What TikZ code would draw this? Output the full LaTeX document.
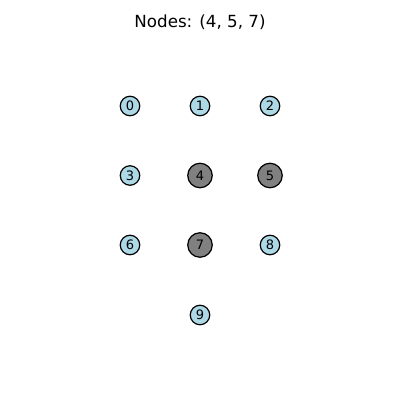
\documentclass[tikz,border=0pt]{standalone}
\usepackage{fontspec}
\setmainfont{DejaVu Sans}
\definecolor{lblue}{RGB}{173,216,230}
\definecolor{ngray}{RGB}{128,128,128}
\begin{document}
\begin{tikzpicture}[x=1pt,y=1pt,
  plain/.style={circle,draw=black,line width=1.2pt,fill=lblue,minimum size=19.5pt,inner sep=0pt,font=\fontsize{13}{13}\selectfont},
  chosen/.style={circle,draw=black,line width=1.2pt,fill=ngray,minimum size=24.5pt,inner sep=0pt,font=\fontsize{13}{13}\selectfont}]
\useasboundingbox (0,0) rectangle (400,400);
\node[font=\fontsize{16.7}{16.7}\selectfont] (title) at (200,377.5) {Nodes: (4, 5, 7)};
\node[plain] (n0) at (130,294) {0};
\node[plain] (n1) at (200,294) {1};
\node[plain] (n2) at (270,294) {2};
\node[plain] (n3) at (130,224.5) {3};
\node[chosen] (n4) at (200,224.5) {4};
\node[chosen] (n5) at (270,224.5) {5};
\node[plain] (n6) at (130,155) {6};
\node[chosen] (n7) at (200,155) {7};
\node[plain] (n8) at (270,155) {8};
\node[plain] (n9) at (200,85) {9};
\end{tikzpicture}
\end{document}
